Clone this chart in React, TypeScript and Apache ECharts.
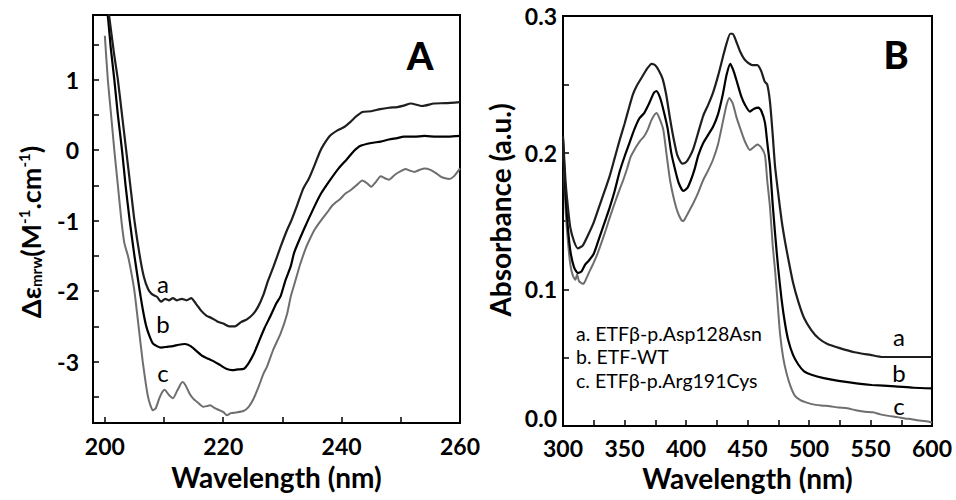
import React, { useEffect, useRef } from "react";
import * as echarts from "echarts";

// ---------- Panel A: CD spectra (wavelength nm, Δε) ----------
const cdXLabels = [200, 220, 240, 260];
const cdXTicks = [200, 210, 220, 230, 240, 250, 260];
const cdYLabels = [-3, -2, -1, 0, 1];
const cdYTicks = [-3.5, -3, -2.5, -2, -1.5, -1, -0.5, 0, 0.5, 1, 1.5];

const cdCurveA: [number, number][] = [
  [200.0, 2.35], [200.7, 1.92], [201.5, 1.4], [202.2, 1.0], [202.9, 0.5], [203.6, 0.0],
  [204.3, -0.5], [205.0, -1.0], [205.9, -1.5], [206.6, -1.8], [207.3, -1.97], [207.9, -2.04],
  [208.8, -2.08], [209.5, -2.15], [210.2, -2.11], [210.8, -2.13], [211.5, -2.1], [212.2, -2.13],
  [213.0, -2.11], [213.8, -2.13], [214.6, -2.1], [215.4, -2.18], [216.3, -2.28], [217.2, -2.35],
  [218.0, -2.38], [219.0, -2.43], [220.0, -2.46], [221.0, -2.5], [222.0, -2.5], [223.0, -2.44],
  [224.0, -2.4], [225.0, -2.33], [225.9, -2.22], [226.8, -2.05], [227.5, -1.87], [228.5, -1.65],
  [229.7, -1.37], [230.8, -1.13], [231.5, -1.0], [232.5, -0.78], [233.5, -0.55], [234.5, -0.4],
  [235.5, -0.2], [236.3, -0.03], [237.0, 0.08], [238.0, 0.2], [239.3, 0.28], [240.5, 0.33],
  [241.5, 0.4], [242.5, 0.48], [243.5, 0.54], [245.0, 0.55], [246.5, 0.58], [248.0, 0.6],
  [249.4, 0.61], [250.5, 0.63], [251.7, 0.66], [253.6, 0.625], [255.6, 0.66], [257.5, 0.665],
  [260.0, 0.68],
];

const cdCurveB: [number, number][] = [
  [200.0, 2.1], [200.5, 1.9], [201.0, 1.45], [201.6, 1.0], [202.2, 0.5], [202.9, 0.0],
  [203.5, -0.5], [204.2, -1.0], [205.0, -1.5], [205.9, -2.0], [206.5, -2.3], [207.0, -2.5],
  [207.6, -2.65], [208.1, -2.74], [208.8, -2.78], [209.5, -2.8], [210.5, -2.79], [211.5, -2.78],
  [212.5, -2.76], [213.5, -2.75], [214.5, -2.78], [215.5, -2.85], [216.5, -2.92], [217.5, -2.96],
  [218.5, -3.0], [219.5, -3.05], [220.5, -3.1], [221.5, -3.12], [222.5, -3.11], [223.5, -3.1],
  [224.3, -3.02], [225.1, -2.9], [226.0, -2.72], [227.0, -2.52], [228.0, -2.35], [229.0, -2.17],
  [229.7, -2.07], [230.5, -1.85], [231.4, -1.65], [232.0, -1.45], [233.6, -1.13], [235.3, -0.82],
  [236.5, -0.62], [238.1, -0.42], [239.5, -0.26], [240.9, -0.13], [242.0, -0.02], [243.2, 0.06],
  [245.0, 0.1], [246.6, 0.12], [248.0, 0.15], [249.4, 0.17], [250.5, 0.19], [252.3, 0.19],
  [254.0, 0.2], [256.0, 0.19], [258.0, 0.19], [260.0, 0.2],
];

const cdCurveC: [number, number][] = [
  [200.0, 1.62], [200.5, 1.0], [201.0, 0.55], [201.6, 0.0], [202.2, -0.5], [202.8, -1.0],
  [203.3, -1.32], [203.9, -1.5], [204.5, -1.75], [205.0, -2.0], [205.7, -2.5], [206.4, -3.0],
  [206.9, -3.3], [207.3, -3.5], [207.7, -3.62], [208.1, -3.69], [208.6, -3.66], [209.2, -3.52],
  [209.7, -3.43], [210.1, -3.4], [210.8, -3.47], [211.5, -3.52], [212.3, -3.4], [213.1, -3.29],
  [213.6, -3.33], [214.3, -3.45], [214.9, -3.52], [215.7, -3.58], [216.6, -3.64], [217.3, -3.63],
  [217.8, -3.62], [218.6, -3.66], [219.4, -3.69], [220.1, -3.72], [220.6, -3.76], [221.3, -3.73],
  [222.2, -3.72], [223.4, -3.7], [224.3, -3.64], [225.1, -3.53], [226.0, -3.35], [226.8, -3.17],
  [227.4, -3.07], [228.5, -2.82], [229.7, -2.6], [230.8, -2.32], [231.4, -2.08], [232.2, -1.85],
  [233.0, -1.62], [234.0, -1.38], [234.7, -1.25], [235.5, -1.12], [236.5, -1.0], [237.6, -0.88],
  [238.5, -0.78], [239.8, -0.69], [240.6, -0.62], [241.5, -0.57], [242.5, -0.5], [243.5, -0.43],
  [244.3, -0.47], [245.0, -0.52], [245.8, -0.45], [246.6, -0.37], [247.3, -0.4], [248.0, -0.42],
  [249.0, -0.35], [250.0, -0.3], [250.8, -0.27], [251.5, -0.29], [252.3, -0.31], [253.2, -0.28],
  [254.0, -0.26], [255.0, -0.28], [256.0, -0.33], [256.8, -0.38], [257.5, -0.4], [258.2, -0.41],
  [259.0, -0.37], [260.0, -0.26],
];

// ---------- Panel B: absorbance spectra (wavelength nm, A) ----------
const absXLabels = [300, 350, 400, 450, 500, 550, 600];
const absXTicks = [300, 325, 350, 375, 400, 425, 450, 475, 500, 525, 550, 575, 600];
const absYLabels = [0, 0.1, 0.2, 0.3];
const absYTicks = [0, 0.05, 0.1, 0.15, 0.2, 0.25, 0.3];

const absCurveA: [number, number][] = [
  [300, 0.212], [302, 0.18], [304, 0.16], [306, 0.145], [309, 0.135], [312, 0.13], [316, 0.132],
  [320, 0.139], [325, 0.149], [330, 0.162], [335, 0.175], [338, 0.183], [342, 0.196], [346, 0.209],
  [350, 0.221], [354, 0.234], [357, 0.243], [360, 0.249], [364, 0.255], [368, 0.261], [372, 0.265],
  [375, 0.264], [378, 0.26], [381, 0.254], [384, 0.242], [387, 0.225], [390, 0.21], [393, 0.198],
  [397, 0.192], [400, 0.193], [403, 0.197], [406, 0.203], [410, 0.215], [414, 0.227], [418, 0.235],
  [422, 0.244], [426, 0.256], [430, 0.27], [433, 0.28], [436, 0.287], [438, 0.287], [441, 0.281],
  [444, 0.274], [447, 0.269], [450, 0.266], [454, 0.264], [458, 0.264], [461, 0.26], [464, 0.252],
  [466, 0.25], [468.3, 0.237], [470.5, 0.213], [472.4, 0.19], [475, 0.17], [477.8, 0.15],
  [480.5, 0.135], [483.2, 0.122], [487, 0.105], [491.3, 0.091], [496, 0.079], [502, 0.07],
  [508, 0.064], [515, 0.06], [525, 0.057], [537, 0.054], [550, 0.052], [560, 0.0505],
  [575, 0.0505], [600, 0.0505],
];

const absCurveB: [number, number][] = [
  [300, 0.21], [302, 0.17], [304, 0.145], [306, 0.128], [309, 0.116], [312, 0.112], [315, 0.113],
  [318, 0.118], [321, 0.121], [325, 0.126], [330, 0.139], [335, 0.152], [338, 0.16], [342, 0.172],
  [346, 0.186], [350, 0.197], [354, 0.207], [358, 0.217], [362, 0.225], [366, 0.229], [370, 0.236],
  [374, 0.244], [376, 0.245], [379, 0.24], [382, 0.23], [385, 0.218], [388, 0.2], [391, 0.188],
  [394, 0.178], [397.8, 0.172], [401, 0.174], [404, 0.18], [407, 0.188], [410, 0.198], [414, 0.207],
  [418, 0.213], [422, 0.219], [426, 0.228], [430, 0.243], [433, 0.257], [436, 0.265], [439, 0.259],
  [442, 0.25], [445, 0.241], [448, 0.235], [452, 0.23], [455, 0.232], [458.8, 0.233], [461, 0.231],
  [464.2, 0.222], [466, 0.208], [468.3, 0.19], [470.5, 0.162], [472.4, 0.141], [475, 0.115],
  [477.8, 0.092], [480.5, 0.075], [483.2, 0.0625], [487, 0.052], [491.3, 0.045], [496, 0.04],
  [502, 0.0375], [512, 0.035], [524, 0.033], [540, 0.031], [551, 0.03], [570, 0.029], [585, 0.028],
  [600, 0.0275],
];

const absCurveC: [number, number][] = [
  [300, 0.21], [302, 0.16], [304, 0.135], [306, 0.118], [308, 0.11], [310, 0.107], [311.5, 0.111],
  [313, 0.106], [316.5, 0.104], [319, 0.108], [322, 0.114], [324.7, 0.119], [328, 0.126],
  [332, 0.136], [335, 0.144], [338.2, 0.153], [342, 0.163], [346, 0.173], [349, 0.18], [352, 0.188],
  [355, 0.197], [358, 0.202], [360, 0.205], [363, 0.209], [366, 0.212], [369, 0.217], [372, 0.224],
  [376, 0.229], [378, 0.226], [381.5, 0.217], [384, 0.2], [387, 0.18], [389.7, 0.168], [393, 0.157],
  [396, 0.151], [397.8, 0.15], [400, 0.153], [403, 0.158], [405.9, 0.163], [410, 0.171], [414, 0.18],
  [418, 0.187], [422, 0.195], [426, 0.206], [430.3, 0.224], [433, 0.235], [435.2, 0.24], [438, 0.236],
  [441, 0.226], [444, 0.218], [448, 0.208], [452, 0.202], [455, 0.204], [458, 0.206], [461, 0.204],
  [464.2, 0.198], [466, 0.18], [468.3, 0.16], [470.5, 0.132], [472.4, 0.114], [474.5, 0.09],
  [476.4, 0.068], [479, 0.05], [481.9, 0.038], [485, 0.029], [488.6, 0.022], [493, 0.019],
  [497, 0.0175], [502.2, 0.016], [510, 0.015], [517, 0.0145], [524, 0.0135], [531, 0.013],
  [538, 0.0115], [545.5, 0.0105], [552, 0.01], [558, 0.0085], [564.5, 0.0074], [572, 0.0065],
  [578, 0.0055], [583.5, 0.005], [590, 0.004], [598.4, 0.003], [600, 0.0025],
];

const legendLinesB = ["a. ETFβ-p.Asp128Asn", "b. ETF-WT", "c. ETFβ-p.Arg191Cys"];
const curveNames = ["a", "b", "c"];
const curveColors = ["#1e1e1e", "#000000", "#6e6e6e"];

const FONT = 'Lato, "Noto Sans", "DejaVu Sans", sans-serif';

const labelBase = {
  fontSize: 23,
  fontWeight: "bold" as const,
  color: "#000",
  fontFamily: FONT,
};

function axisCommon(labels: number[], ticks: number[], labelMargin: number, fmt?: (v: number) => string, rich?: any) {
  return {
    type: "value" as const,
    axisLine: { show: true, onZero: false, lineStyle: { color: "#000", width: 2 } },
    axisTick: { show: true, inside: true, length: 6, lineStyle: { color: "#000", width: 1.5 }, customValues: ticks },
    axisLabel: {
      show: true,
      customValues: labels,
      margin: labelMargin,
      ...labelBase,
      formatter: fmt,
      rich,
    },
    splitLine: { show: false },
    minorTick: { show: false },
  };
}

export default function App() {
  const ref = useRef<HTMLDivElement>(null);

  useEffect(() => {
    if (!ref.current) return;
    const chart = echarts.init(ref.current, undefined, { renderer: "svg" });

    const titleStyle = { fontSize: 28, fontWeight: "bold" as const, color: "#000", fontFamily: FONT };

    const lineSeries = (data: [number, number][], idx: number, grid: number) => ({
      type: "line" as const,
      xAxisIndex: grid,
      yAxisIndex: grid,
      data,
      showSymbol: false,
      symbol: "none",
      clip: true,
      smooth: 0.2,
      lineStyle: { color: curveColors[idx], width: idx === 2 ? 2 : 2.2 },
      z: 3 - idx,
    });

    const option = {
      animation: false,
      textStyle: { fontFamily: FONT },
      grid: [
        { left: 93, top: 15, width: 367, height: 408, show: true, borderColor: "#000", borderWidth: 2, backgroundColor: "transparent" },
        { left: 563, top: 16, width: 369, height: 410, show: true, borderColor: "#000", borderWidth: 2, backgroundColor: "transparent" },
      ],
      xAxis: [
        {
          ...axisCommon(cdXLabels, cdXTicks, 11),
          gridIndex: 0,
          min: 198,
          max: 260,
          name: "Wavelength (nm)",
          nameLocation: "middle",
          nameGap: 40,
          nameTextStyle: titleStyle,
        },
        {
          ...axisCommon(absXLabels, absXTicks, 10),
          gridIndex: 1,
          min: 300,
          max: 600,
          name: "Wavelength (nm)",
          nameLocation: "middle",
          nameGap: 37,
          nameTextStyle: titleStyle,
        },
      ],
      yAxis: [
        {
          ...axisCommon(cdYLabels, cdYTicks, 14),
          gridIndex: 0,
          min: -3.87,
          max: 1.915,
        },
        {
          ...axisCommon(
            absYLabels,
            absYTicks,
            6,
            (v: number) => (v === 0 ? "{z|0.0}" : v.toFixed(1)),
            { z: { ...labelBase, padding: [0, 0, 16, 0] } }
          ),
          gridIndex: 1,
          min: 0,
          max: 0.3,
        },
      ],
      series: [
        lineSeries(cdCurveA, 0, 0),
        lineSeries(cdCurveB, 1, 0),
        lineSeries(cdCurveC, 2, 0),
        lineSeries(absCurveA, 0, 1),
        lineSeries(absCurveB, 1, 1),
        lineSeries(absCurveC, 2, 1),
      ],
      graphic: [
        // y-axis titles
        {
          type: "text",
          x: 30,
          y: 232,
          rotation: Math.PI / 2,
          style: {
            text: "{m|Δε}{sub|mrw}{m|(M}{sup|-1}{m|.cm}{sup|-1}{m|)}",
            align: "center",
            verticalAlign: "middle",
            fontFamily: FONT,
            rich: {
              m: { fontSize: 27, fontWeight: "bold", fill: "#000", fontFamily: FONT },
              sub: { fontSize: 15, fontWeight: "bold", fill: "#000", fontFamily: FONT, padding: [12, 0, 0, 0] },
              sup: { fontSize: 15, fontWeight: "bold", fill: "#000", fontFamily: FONT, padding: [0, 0, 12, 0] },
            },
          },
        },
        {
          type: "text",
          x: 500,
          y: 210,
          rotation: Math.PI / 2,
          style: {
            text: "Absorbance (a.u.)",
            align: "center",
            verticalAlign: "middle",
            fontSize: 28,
            fontWeight: "bold",
            fill: "#000",
            fontFamily: FONT,
          },
        },
        // panel letters
        { type: "text", x: 420, y: 55, style: { text: "A", align: "center", verticalAlign: "middle", fontSize: 38, fontWeight: 900, fill: "#000", fontFamily: FONT } },
        { type: "text", x: 896, y: 54, style: { text: "B", align: "center", verticalAlign: "middle", fontSize: 38, fontWeight: 900, fill: "#000", fontFamily: FONT } },
        // curve labels panel A
        ...curveNames.map((n, i) => ({
          type: "text",
          x: 163,
          y: [283, 323, 372][i],
          style: { text: n, align: "center", verticalAlign: "middle", fontSize: 24, fill: "#000", fontFamily: FONT },
        })),
        // curve labels panel B
        ...curveNames.map((n, i) => ({
          type: "text",
          x: 899,
          y: [336, 372, 405][i],
          style: { text: n, align: "center", verticalAlign: "middle", fontSize: 24, fill: "#000", fontFamily: FONT },
        })),
        // legend text panel B
        ...legendLinesB.map((t, i) => ({
          type: "text",
          x: 576,
          y: 333 + i * 23.5,
          style: { text: t, align: "left", verticalAlign: "middle", fontSize: 19.5, fill: "#000", fontFamily: FONT },
        })),
      ],
    };

    chart.setOption(option as any);
    return () => chart.dispose();
  }, []);

  return (
    <div
      ref={ref}
      style={{ position: "fixed", left: 0, top: 0, width: 956, height: 500, background: "#fff" }}
    />
  );
}
